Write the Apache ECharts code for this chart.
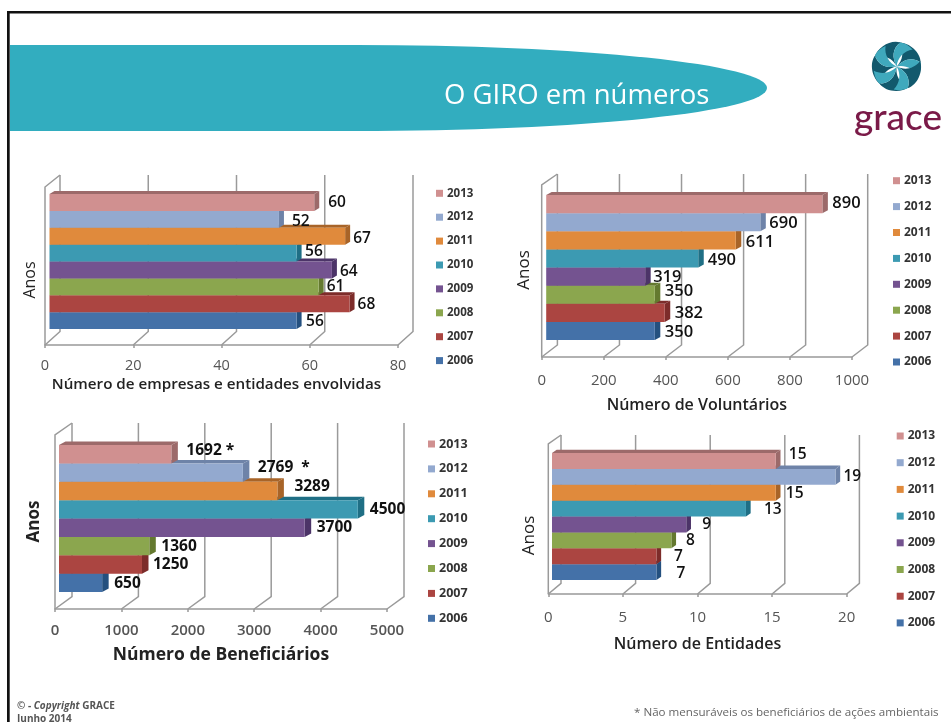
<!DOCTYPE html>
<html><head><meta charset="utf-8">
<style>html,body{margin:0;padding:0;background:#fff}#c{width:951px;height:722px}</style>
<script src="https://cdn.jsdelivr.net/npm/echarts@6/dist/echarts.min.js"></script>
</head><body><div id="c"></div>
<script>
const years = ['2006','2007','2008','2009','2010','2011','2012','2013'];
const empresas = [56,68,61,64,56,67,52,60];
const voluntarios = [350,382,350,319,490,611,690,890];
const beneficiarios = [650,1250,1360,3700,4500,3289,2769,1692];
const entidades = [7,7,8,9,13,15,19,15];
const ticksEmpresas = [0,20,40,60,80];
const ticksVoluntarios = [0,200,400,600,800,1000];
const ticksBeneficiarios = [0,1000,2000,3000,4000,5000];
const ticksEntidades = [0,5,10,15,20];
const notaBeneficiarios = ['','','','','','','  *',' *'];
const semNota = ['','','','','','','',''];
const frontColors = ['#4471A8','#AB4541','#8BA64E','#745390','#3C9AB2','#E08A3C','#93A9CF','#D09090'];
const sideColors = ['#24507F','#7D2C2A','#64792F','#4C3468','#1F6F85','#A86428','#6E83A8','#9C6A6A'];
const textFont = '"Open Sans", "Noto Sans", sans-serif';

// layout of each panel (pixels of the slide)
const panels = [
 {values:empresas,ticks:ticksEmpresas,notes:semNota,xName:'Número de empresas e entidades envolvidas',
  x0:45,x1:398,axisY:345,top:194,bottom:329,shift:4.5,dx:5,dy:3,wx:15,wy:13.5,wallTop:175,leftTop:187,
  ldx:[9.5,8,8,8,8.5,8,13,14],ldy:[1,1,0,2,-1,2,2,0],lFont:15.5,lWeight:600,
  tickFont:14.5,tickMargin:13,nameFont:15.2,nameGap:32,namePad:[0,10,0,0],nameWeight:600,
  yGap:7,yPad:[0,37,0,0],yFont:16,yWeight:500,
  legX:436,legY:193.3,legStep:23.9,legFont:11.5},
 {values:voluntarios,ticks:ticksVoluntarios,notes:semNota,xName:'Número de Voluntários',
  x0:541.7,x1:852,axisY:357,top:195,bottom:340,shift:4.5,dx:5.5,dy:3,wx:15.7,wy:12,wallTop:174,leftTop:185,
  ldx:[10,10,10,8,9.5,10,9,10],ldy:[1,0,-3,1,1.5,2,1,-1],lFont:16.5,lWeight:600,
  tickFont:15,tickMargin:16,nameFont:16,nameGap:40,namePad:[0,0,0,0],nameWeight:600,
  yGap:9,yPad:[0,5,0,0],yFont:17,yWeight:500,
  legX:893,legY:180.7,legStep:25.9,legFont:12},
 {values:beneficiarios,ticks:ticksBeneficiarios,notes:notaBeneficiarios,xName:'Número de Beneficiários',
  x0:55,x1:387,axisY:609,top:445,bottom:592,shift:4,dx:6.5,dy:3.5,wx:17,wy:12.3,wallTop:423,leftTop:435,
  ldx:[12,11,12,12,12,17,15,15],ldy:[1,0.5,0.5,0,0,-4,-5,-4],lFont:15.5,lWeight:700,
  tickFont:15,tickMargin:14,nameFont:17.5,nameGap:37,namePad:[0,0,0,0],nameWeight:700,
  yGap:12,yPad:[0,6,0,0],yFont:17,yWeight:700,
  legX:428,legY:444,legStep:24.9,legFont:12.5},
 {values:entidades,ticks:ticksEntidades,notes:semNota,xName:'Número de Entidades',
  x0:548.3,x1:846.7,axisY:594,top:453,bottom:580,shift:3.7,dx:4.7,dy:3.3,wx:12.7,wy:10.7,wallTop:435,leftTop:444,
  ldx:[20,17.6,14.6,16,18,10,8,13],ldy:[2,0,0,0,1,1,0,-6],lFont:15.5,lWeight:600,
  tickFont:15,tickMargin:16,nameFont:16,nameGap:42,namePad:[0,0,0,0],nameWeight:600,
  yGap:11,yPad:[0,38,0,0],yFont:17,yWeight:500,
  legX:896.7,legY:436,legStep:26.7,legFont:12}
];

const grids=[],xAxes=[],yAxes=[],series=[],legends=[];

// slide decoration: banner and logo mark
const petals=[];
[0,72,144,216,288].forEach(a=>{
  const r=a*Math.PI/180;
  petals.push({type:'path',x:896.7,y:66.5,rotation:r,
    shape:{pathData:'M0 0 C6 -6 8 -15 2 -24 C13 -24 24 -14 24 -4 C15 -10 7 -7 0 0 Z'},style:{fill:'#12596d'}});
  petals.push({type:'path',x:896.7,y:66.5,rotation:r,
    shape:{pathData:'M0 0 C7 -7 15 -10 24 -4 C25 2 23 6 21 10 C17 2 8 -2 0 0 Z'},style:{fill:'#3fa9bd'}});
});
series.push({type:'custom',coordinateSystem:'none',z:0,silent:true,data:[[0]],
  renderItem:()=>({type:'group',children:[
    {type:'path',shape:{pathData:'M10 45 H356 A411 43 0 0 1 356 131 H10 Z'},style:{fill:'#32ADBF'}},
    ...petals
  ]})});

panels.forEach((p,i)=>{
  grids.push({left:p.x0,top:p.top,width:p.x1-p.x0,height:p.bottom-p.top,containLabel:false});
  xAxes.push({type:'value',gridIndex:i,min:0,max:p.ticks[p.ticks.length-1],interval:p.ticks[1]-p.ticks[0],
    position:'bottom',offset:p.axisY-p.bottom,
    axisLine:{show:true,lineStyle:{color:'#999',width:1.5}},axisTick:{show:true,length:3,lineStyle:{color:'#999',width:1.5}},
    splitLine:{show:false},
    axisLabel:{margin:p.tickMargin,fontFamily:textFont,fontSize:p.tickFont,color:'#555',fontWeight:i==2?600:400,formatter:v=>String(v)},
    name:p.xName,nameLocation:'middle',nameGap:p.nameGap,
    nameTextStyle:{fontFamily:textFont,fontSize:p.nameFont,fontWeight:p.nameWeight,color:'#222',padding:p.namePad}});
  yAxes.push({type:'category',gridIndex:i,data:years,
    axisLine:{show:false},axisTick:{show:false},axisLabel:{show:false},splitLine:{show:false},
    name:'Anos',nameLocation:'middle',nameGap:p.yGap,nameRotate:90,
    nameTextStyle:{fontFamily:textFont,fontSize:p.yFont,fontWeight:p.yWeight,color:'#222',padding:p.yPad}});
  // 3-D walls
  series.push({type:'custom',xAxisIndex:i,yAxisIndex:i,z:1,silent:true,coordinateSystem:'cartesian2d',
    data:p.ticks.map(t=>[t,years[0]]),encode:{x:0,y:1},
    renderItem:(params,api)=>{
      const v=api.value(0),x=api.coord([v,0])[0];
      const stroke={stroke:'#9a9a9a',lineWidth:1.5,fill:null};
      const kids=[{type:'polyline',shape:{points:[[x,p.axisY],[x+p.wx,p.axisY-p.wy],[x+p.wx,p.wallTop]]},style:stroke}];
      if(v===0)kids.push({type:'polyline',shape:{points:[[x,p.axisY],[x,p.leftTop],[x+p.wx,p.wallTop]]},style:stroke});
      return {type:'group',children:kids};
    }});
  // bars, one series per year, lower bars first
  years.forEach((y,k)=>{
    series.push({type:'custom',name:y,xAxisIndex:i,yAxisIndex:i,z:2,silent:true,coordinateSystem:'cartesian2d',
      itemStyle:{color:frontColors[k]},
      data:[[p.values[k],y]],encode:{x:0,y:1},
      renderItem:(params,api)=>{
        const v=api.value(0),cat=api.value(1);
        const c=api.coord([v,cat]),c0=api.coord([0,cat]),h=api.size([0,1])[1];
        const xs=c0[0]+p.shift,xe=c[0]+p.shift,t=c[1]-h/2,b=c[1]+h/2;
        return {type:'group',children:[
          {type:'polygon',shape:{points:[[xs,t],[xs+p.dx,t-p.dy],[xe+p.dx,t-p.dy],[xe,t]]},style:{fill:sideColors[k]}},
          {type:'polygon',shape:{points:[[xe,t],[xe+p.dx,t-p.dy],[xe+p.dx,b-p.dy],[xe,b]]},style:{fill:sideColors[k]}},
          {type:'rect',shape:{x:xs,y:t,width:xe-xs,height:h},style:{fill:frontColors[k]}},
          {type:'text',z2:100,x:xe+p.ldx[k],y:c[1]+p.ldy[k],
            style:{text:String(v)+p.notes[k],fill:'#111',font:p.lWeight+' '+p.lFont+'px '+textFont,textAlign:'left',textVerticalAlign:'middle'}}
        ]};
      }});
  });
  legends.push({orient:'vertical',left:p.legX,top:p.legY-7,icon:'rect',itemWidth:7,itemHeight:7,itemGap:p.legStep-14,
    selectedMode:false,padding:0,data:years.slice().reverse(),
    textStyle:{fontFamily:textFont,fontSize:p.legFont,fontWeight:700,color:'#333',lineHeight:14,padding:[0,0,0,-1]}});
});

const chart=echarts.init(document.getElementById('c'),null,{renderer:'canvas'});
chart.setOption({
  animation:false,backgroundColor:'#fff',
  title:{text:'O GIRO em números',left:444,top:82,padding:0,z:5,
    textStyle:{fontFamily:textFont,fontSize:27.5,fontWeight:400,color:'#fff'}},
  grid:grids,xAxis:xAxes,yAxis:yAxes,legend:legends,series:series,
  graphic:[
    {type:'rect',shape:{x:7,y:11,width:944,height:2.5},style:{fill:'#111'}},
    {type:'rect',shape:{x:7,y:11,width:2.7,height:711},style:{fill:'#111'}},
    {type:'text',x:854,y:100,style:{text:'grace',font:'500 37px Lato, "Open Sans", sans-serif',fill:'#7a1a48'}},
    {type:'text',x:17,y:701,style:{rich:{a:{font:'700 10px '+textFont,fill:'#555'},b:{font:'italic 700 10px '+textFont,fill:'#555'}},text:'{a|© - }{b|Copyright}{a| GRACE}'}},
    {type:'text',x:17,y:714,style:{text:'Junho 2014',font:'700 10px '+textFont,fill:'#555'}},
    {type:'text',x:634,y:707,style:{text:'* Não mensuráveis os beneficiários de ações ambientais',font:'400 11.6px '+textFont,fill:'#666'}}
  ]
});
</script></body></html>
